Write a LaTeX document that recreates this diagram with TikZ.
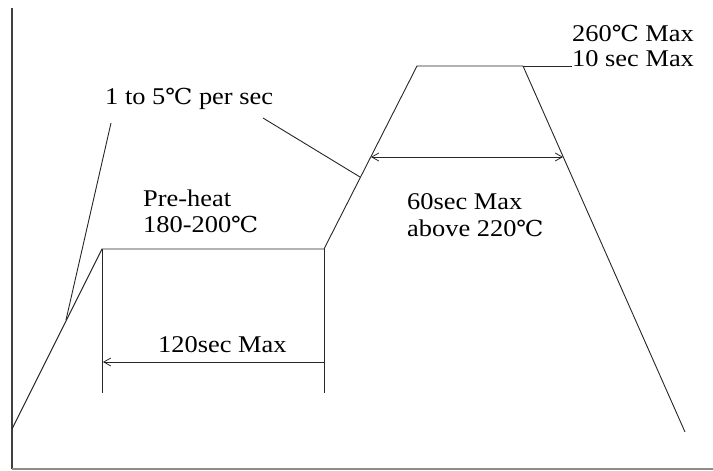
\documentclass[tikz,border=0pt]{standalone}
\usepackage{fontspec}
\setmainfont{Liberation Serif}
\newfontfamily\degfont{DejaVu Serif}
\usetikzlibrary{arrows.meta}
\newcommand{\degC}{{\degfont\fontsize{22}{26}\selectfont ℃}}
\begin{document}
\begin{tikzpicture}[x=1pt, y=-1pt, every node/.style={font=\fontsize{24}{28}\selectfont, inner sep=0pt, anchor=west, xscale=1.1},
    curve/.style={line width=0.9pt, black!85},
    dim/.style={line width=0.8pt, black!85, arrows={-Straight Barb[length=7pt, width=8pt]}}]
        \useasboundingbox (0,0) rectangle (713,471);

        % Axes
        \coordinate (top) at (12,8);
        \coordinate (orig) at (12,469);
        \coordinate (xend) at (713,469);
        \draw[line width=1.3pt, black!75] (top) -- (orig);
        \draw[line width=1.3pt, black!45] (orig) -- (xend);

        % Profile
        \coordinate (p0) at (12,429);
        \coordinate (pa) at (102,249);
        \coordinate (pb) at (324,249);
        \coordinate (pc) at (417,66);
        \coordinate (pd) at (523,66);
        \coordinate (pe) at (685,432);
        \coordinate (pk) at (572,66);
        \draw[curve] (p0) -- (pa) -- (pb) -- (pc) -- (pd) -- (pe);
        \draw[curve] (pd) -- (pk);

        % Pre-heat
        \coordinate (la) at (102,393);
        \coordinate (lb) at (324,393);
        \draw[curve] (pa) -- (la);
        \draw[curve] (pb) -- (lb);
        \coordinate (ma) at (103,362);
        \coordinate (mb) at (324,362);
        \draw[dim] (mb) -- (ma);
        \node (tpre) at (143,198) {Pre-heat};
        \node (tpretemp) at (143,224) {180-200\degC};
        \node (ttime) at (158,345) {120sec Max};

        % Reflow
        \coordinate (ra) at (371,157);
        \coordinate (rb) at (563,157);
        \draw[dim, arrows={Straight Barb[length=7pt, width=8pt]-Straight Barb[length=7pt, width=8pt]}] (ra) -- (rb);
        \node (tabove) at (407,202) {60sec Max};
        \node (tabovetemp) at (407,228) {above 220\degC};

        % Peak
        \node (tpeak) at (572,33) {260\degC\ Max};
        \node (tpeaktime) at (572,59) {10 sec Max};

        % Ramp rate
        \node (trate) at (105,99) {1 to 5\degC\ per sec};
        \coordinate (qa) at (111,123);
        \coordinate (qb) at (66,320);
        \coordinate (qc) at (263,118);
        \coordinate (qd) at (360,177);
        \draw[curve] (qa) -- (qb);
        \draw[curve] (qc) -- (qd);

    \end{tikzpicture}
\end{document}
